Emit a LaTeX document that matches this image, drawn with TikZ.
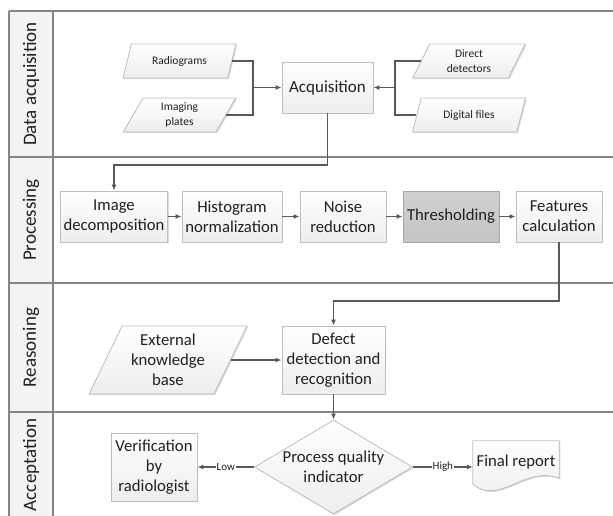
\documentclass[tikz,border=0pt]{standalone}
\usepackage{fontspec}
\setmainfont{Carlito}
\usetikzlibrary{arrows.meta,shapes.geometric,shadows,calc}
\definecolor{lineC}{HTML}{595959}
\definecolor{borderC}{HTML}{BDBDBD}
\definecolor{laneC}{HTML}{858585}
\definecolor{colC}{HTML}{F3F3F3}
\definecolor{textC}{HTML}{202020}
\definecolor{darkA}{HTML}{D0D0D0}
\definecolor{darkB}{HTML}{C4C4C4}
\begin{document}
\begin{tikzpicture}[x=1pt,y=-1pt,
  every node/.style={text=textC},
  lanelabel/.style={rotate=90, font=\fontsize{19}{22}\selectfont},
  shadowed/.style={general shadow={fill=black!14, shadow xshift=1.2pt, shadow yshift=-1.2pt}},
  proc/.style={draw=borderC, line width=0.8pt, top color=white, bottom color=black!7,
    align=center, font=\fontsize{16.7}{20}\selectfont, inner sep=1pt, shadowed},
  dataio/.style={trapezium, trapezium stretches=true, draw=borderC, line width=0.8pt,
    top color=white, bottom color=black!7, align=center, inner sep=1pt, shadowed},
  smalldata/.style={dataio, font=\fontsize{11.5}{14.5}\selectfont,
    trapezium left angle=68, trapezium right angle=112,
    minimum width=113pt, minimum height=34pt},
  conn/.style={draw=lineC, line width=1.2pt},
  arr/.style={conn, -{Latex[length=6pt,width=5pt]}},
  lanestroke/.style={draw=laneC, line width=1.2pt},
  branch/.style={fill=white, inner sep=1pt, font=\fontsize{11}{13}\selectfont},
]
\useasboundingbox (0,0) rectangle (613,515);
\clip (0,0) rectangle (613,515);

% swimlane frame
\fill[colC] (9,11) rectangle (53,530);
\draw[lanestroke] (9,11) -- (630,11);
\draw[lanestroke] (9,11) -- (9,530);
\draw[lanestroke] (53,11) -- (53,530);
\draw[lanestroke] (9,157) -- (630,157);
\draw[lanestroke] (9,283) -- (630,283);
\draw[lanestroke] (9,412) -- (630,412);

\node[lanelabel] (lDA) at (31,84) {Data acquisition};
\node[lanelabel] (lPR) at (31,220) {Processing};
\node[lanelabel] (lRE) at (31,347.5) {Reasoning};
\node[lanelabel] (lAC) at (31,465) {Acceptation};

% Data acquisition
\node[smalldata] (rad) at (179.5,61) {Radiograms};
\node[smalldata] (ima) at (179.5,115) {Imaging\\plates};
\node[smalldata] (dir) at (469,61) {Direct\\detectors};
\node[smalldata] (dig) at (469,115) {Digital files};
\node[proc, minimum width=91pt, minimum height=51pt, font=\fontsize{17}{20}\selectfont] (acq) at (327.5,87.5) {Acquisition};

\coordinate (jl) at (253,87.5);
\coordinate (jr) at (395,87.5);
\draw[conn] (rad.east) -| (jl);
\draw[conn] (ima.east) -| (jl);
\draw[arr] (jl) -- (acq.west);
\draw[conn] (dir.west) -| (jr);
\draw[conn] (dig.west) -| (jr);
\draw[arr] (jr) -- (acq.east);

% Processing
\node[proc, minimum width=107pt, minimum height=51pt] (img) at (114,216.5) {Image\\decomposition};
\node[proc, minimum width=100pt, minimum height=51pt] (his) at (232,216.5) {Histogram\\normalization};
\node[proc, minimum width=86pt, minimum height=51pt] (noi) at (343,216.5) {Noise\\reduction};
\node[proc, minimum width=96pt, minimum height=51pt, top color=darkA, bottom color=darkB, draw=black!35] (thr) at (451,216.5) {Thresholding};
\node[proc, minimum width=86pt, minimum height=51pt] (fea) at (559,216.5) {Features\\calculation};

\coordinate (b1) at (0,165);
\draw[arr] (acq.south) -- (acq.south |- b1) -| (img.north);
\draw[arr] (img) -- (his);
\draw[arr] (his) -- (noi);
\draw[arr] (noi) -- (thr);
\draw[arr] (thr) -- (fea);

% Reasoning
\node[dataio, font=\fontsize{16.7}{20}\selectfont, trapezium left angle=63, trapezium right angle=117,
  minimum width=158pt, minimum height=68pt] (ext) at (168,360) {External\\knowledge\\base};
\node[proc, minimum width=103pt, minimum height=68pt] (def) at (333.5,360) {Defect\\detection and\\recognition};

\coordinate (b2) at (0,301);
\draw[arr] (fea.south) -- (fea.south |- b2) -| (def.north);
\draw[arr] (ext.east) -- (ext.east -| def.west);

% Acceptation
\node[diamond, draw=borderC, line width=0.8pt, top color=white, bottom color=black!7,
  minimum width=158pt, minimum height=94pt, inner sep=0pt, shadowed,
  label={[font=\fontsize{16.7}{20}\selectfont, align=center, text=textC]center:Process quality\\indicator}] (dia) at (333.5,467) {};
\node[proc, minimum width=86pt, minimum height=68pt] (ver) at (154,467) {Verification\\by\\radiologist};
\node[font=\fontsize{16.7}{20}\selectfont, minimum width=86pt, minimum height=42pt, inner sep=0pt] (fin) at (516,462) {};
\path[draw=borderC, line width=0.8pt, top color=white, bottom color=black!7, shadowed]
  (fin.north west) -- (fin.north east) -- ($(fin.south east)+(0,-5)$)
  .. controls (525,465) and (500,506) .. ($(fin.south west)+(0,1)$) -- cycle;
\node[font=\fontsize{16.7}{20}\selectfont] (fintext) at (fin.center) {Final report};

\draw[arr] (def.south) -- (dia.north);
\draw[arr] (dia.west) -- node[branch] (lowlbl) {Low} (ver.east);
\draw[arr] (dia.east) -- node[branch] (highlbl) {High} (dia.east -| fin.west);
\end{tikzpicture}
\end{document}
